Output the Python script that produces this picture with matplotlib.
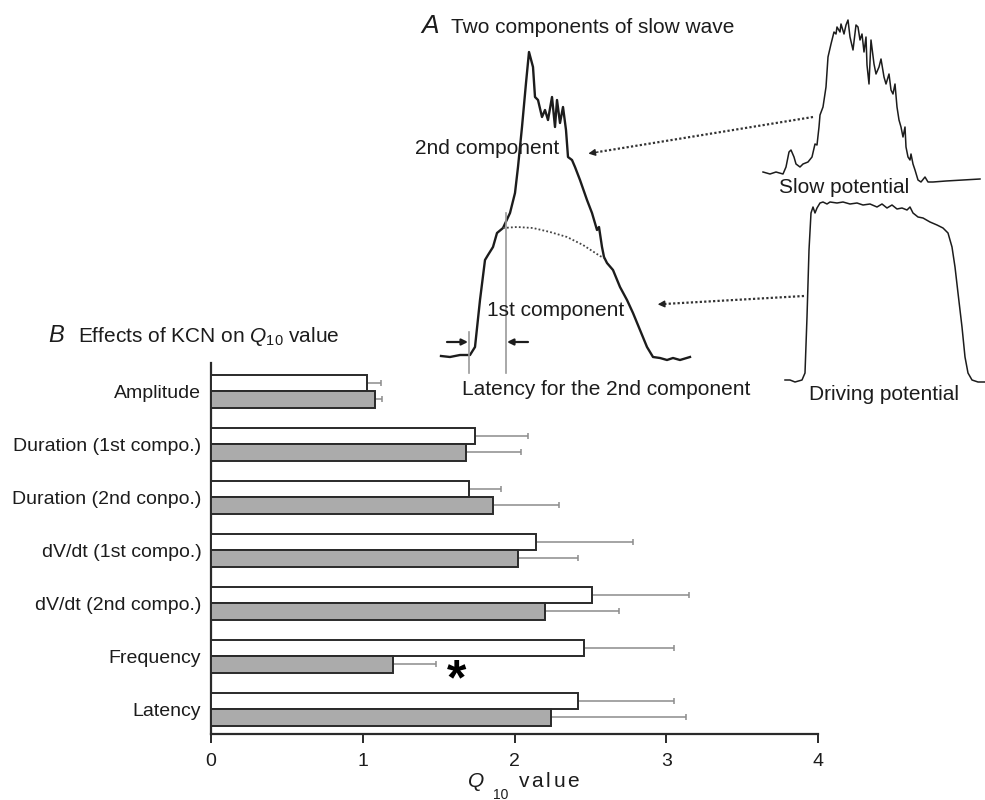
import matplotlib.pyplot as plt

plt.rcParams['font.family'] = ['Liberation Sans', 'DejaVu Sans']
plt.rcParams['mathtext.fontset'] = 'custom'
plt.rcParams['mathtext.rm'] = 'Liberation Sans'
plt.rcParams['mathtext.it'] = 'Liberation Sans:italic'

W, H = 985, 800
INK = '#1c1c1c'

# ---- B: Q10 values (open = control, grey = KCN) ----
measures = ['Amplitude', 'Duration (1st compo.)', 'Duration (2nd conpo.)',
            'dV/dt (1st compo.)', 'dV/dt (2nd compo.)', 'Frequency', 'Latency']
control_q10 = [1.03, 1.74, 1.70, 2.14, 2.51, 2.46, 2.42]
control_err = [0.09, 0.35, 0.21, 0.64, 0.64, 0.59, 0.63]
kcn_q10 = [1.08, 1.68, 1.86, 2.02, 2.20, 1.20, 2.24]
kcn_err = [0.05, 0.36, 0.43, 0.40, 0.49, 0.28, 0.89]
x_ticks = [0, 1, 2, 3, 4]

# ---- A: traces (time, voltage in plotting units, baseline = 0) ----
compound_t = [0, 9, 19, 29, 34, 39, 44, 47, 52, 56, 62, 69, 74, 77, 81, 85, 88,
              92, 94, 97, 101, 104, 107, 111, 114, 116, 119, 122, 125, 127, 131,
              134, 139, 146, 151, 156, 158, 161, 163, 166, 172, 179, 186, 192,
              199, 206, 212, 219, 226, 232, 239, 249]
compound_v = [0, -1, 1, 1, 9, 56, 96, 101, 109, 123, 128, 143, 163, 189, 229,
              273, 304, 289, 259, 256, 239, 246, 236, 259, 229, 256, 233, 249,
              226, 199, 196, 189, 176, 156, 143, 126, 129, 109, 99, 93, 86, 69,
              56, 43, 26, 9, -1, -2, -4, -2, -4, -1]
first_comp_t = [62, 76, 92, 109, 126, 142, 159, 163]
first_comp_v = [128, 129, 128, 124, 119, 111, 100, 98]

slow_t = [0, 7, 13, 20, 23, 26, 28, 31, 33, 37, 40, 45, 49, 52, 54, 56, 57, 60,
          63, 65, 68, 71, 73, 74, 77, 78, 81, 83, 85, 87, 90, 93, 95, 97, 99,
          101, 103, 104, 106, 108, 111, 113, 116, 118, 121, 123, 126, 128, 130,
          132, 134, 136, 138, 140, 142, 143, 145, 147, 148, 150, 152, 155, 158,
          162, 165, 170, 183, 200, 217]
slow_v = [0, -2, 0, -2, 5, 20, 22, 15, 8, 5, 8, 10, 15, 28, 27, 45, 57, 65, 85,
          115, 128, 140, 138, 145, 140, 148, 138, 147, 152, 135, 122, 147, 145,
          132, 138, 120, 135, 107, 88, 132, 108, 98, 105, 113, 95, 88, 98, 82,
          78, 88, 65, 52, 45, 35, 45, 25, 15, 12, 18, 8, 2, -8, -10, -5, -10,
          -10, -9, -8, -7]

drive_t = [0, 5, 10, 17, 20, 22, 24, 26, 28, 30, 32, 35, 38, 42, 45, 52, 58,
           65, 72, 78, 85, 92, 97, 102, 107, 112, 117, 122, 125, 128, 133, 138,
           145, 152, 158, 163, 167, 170, 173, 177, 180, 183, 187, 193, 200]
drive_v = [0, 0, -2, 0, 7, 63, 130, 167, 173, 167, 172, 177, 178, 176, 178,
           177, 178, 176, 177, 175, 176, 173, 176, 172, 175, 171, 172, 170, 173,
           167, 163, 162, 158, 155, 152, 147, 133, 113, 87, 53, 23, 7, 0, -2, -2]

fig = plt.figure(figsize=(W / 100, H / 100), dpi=100)


def trace_axes(x0, y0, t_range, v_range):
    """Axes whose units are figure pixels, origin at (x0, y0) from top-left."""
    t_lo, t_hi = t_range
    v_lo, v_hi = v_range
    ax = fig.add_axes([(x0 + t_lo) / W, (H - y0 + v_lo) / H,
                       (t_hi - t_lo) / W, (v_hi - v_lo) / H])
    ax.set_xlim(t_lo, t_hi)
    ax.set_ylim(v_lo, v_hi)
    ax.axis('off')
    return ax


# ---- B: horizontal bar chart (drawn first, transparent background) ----
ax = fig.add_axes([211 / W, 66 / H, 607 / W, 371 / H])
ax.patch.set_visible(False)
pos = list(range(len(measures)))
h = 0.31
ax.barh([p - h / 2 for p in pos], control_q10, height=h, color='white',
        edgecolor='#2a2a2a', linewidth=1.4, zorder=3)
ax.barh([p + h / 2 for p in pos], kcn_q10, height=h, color='#ababab',
        edgecolor='#2a2a2a', linewidth=1.4, zorder=3)
ax.errorbar(control_q10, [p - h / 2 for p in pos],
            xerr=[[0] * len(pos), control_err], fmt='none', ecolor='#8c8c8c',
            elinewidth=1.1, capsize=2.5, capthick=1.1, zorder=2)
ax.errorbar(kcn_q10, [p + h / 2 for p in pos],
            xerr=[[0] * len(pos), kcn_err], fmt='none', ecolor='#8c8c8c',
            elinewidth=1.1, capsize=2.5, capthick=1.1, zorder=2)

ax.set_xlim(0, 4)
ax.set_ylim(6.47, -0.53)
ax.set_xticks(x_ticks)
ax.set_xticklabels([str(t) for t in x_ticks])
ax.set_yticks(pos)
ax.set_yticklabels(measures)
ax.tick_params(axis='x', length=6.5, width=1.4, color='#2a2a2a', labelsize=14,
               labelcolor=INK, pad=7)
ax.tick_params(axis='y', length=0, labelsize=14, labelcolor=INK, pad=7)
for side in ('top', 'right'):
    ax.spines[side].set_visible(False)
for side in ('left', 'bottom'):
    ax.spines[side].set_linewidth(1.6)
    ax.spines[side].set_color('#2a2a2a')

# significance mark on the KCN frequency bar
ax.text(1.62, 5.73, '*', fontsize=36, fontweight='bold', color='black',
        ha='center', va='baseline')

xt = ax.get_xaxis_transform()
ax.text(1.69, -0.143, r'$Q$', fontsize=15, color=INK, transform=xt,
        va='baseline')
ax.text(1.86, -0.175, '10', fontsize=10, color=INK, transform=xt,
        va='baseline')
ax.text(2.02, -0.143, r'$\mathrm{v\,a\,l\,u\,e}$', fontsize=15, color=INK,
        transform=xt, va='baseline')

# ---- A: compound slow wave with its two components ----
ax_c = trace_axes(441, 356, (-10, 260), (-30, 330))
ax_c.plot(compound_t, compound_v, color=INK, lw=1.7, solid_joinstyle='round')
ax_c.plot(first_comp_t, first_comp_v, color='#444444', lw=1.3,
          linestyle=(0, (1, 1.2)))
ax_c.plot([28, 28], [-17, 24], color='#9a9a9a', lw=1.2)
ax_c.plot([65, 65], [-17, 143], color='#9a9a9a', lw=1.2)
ax_c.annotate('', xy=(27, 14), xytext=(6, 14),
              arrowprops=dict(arrowstyle='-|>', color=INK, lw=1.6,
                              mutation_scale=9, shrinkA=0, shrinkB=0))
ax_c.annotate('', xy=(66, 14), xytext=(87, 14),
              arrowprops=dict(arrowstyle='-|>', color=INK, lw=1.6,
                              mutation_scale=9, shrinkA=0, shrinkB=0))

ax_s = trace_axes(763, 172, (-5, 225), (-20, 160))
ax_s.plot(slow_t, slow_v, color=INK, lw=1.1)

ax_d = trace_axes(785, 380, (-5, 205), (-10, 185))
ax_d.plot(drive_t, drive_v, color=INK, lw=1.1)

# labels and dotted pointers, laid out in pixel units
ax_txt = fig.add_axes([0, 0, 1, 1])
ax_txt.set_xlim(0, W)
ax_txt.set_ylim(H, 0)
ax_txt.axis('off')

ax_txt.text(421, 33, 'A', fontsize=19, style='italic', color=INK, va='baseline')
ax_txt.text(451, 33, 'Two components of slow wave', fontsize=15, color=INK,
            va='baseline')
ax_txt.text(415, 154, '2nd component', fontsize=15, color=INK, va='baseline')
ax_txt.text(487, 316, '1st component', fontsize=15, color=INK, va='baseline')
ax_txt.text(462, 395, 'Latency for the 2nd component', fontsize=15, color=INK,
            va='baseline')
ax_txt.text(779, 193, 'Slow potential', fontsize=15, color=INK, va='baseline')
ax_txt.text(809, 400, 'Driving potential', fontsize=15, color=INK, va='baseline')

for (x1, y1), (x2, y2) in [((813, 117), (598, 152)), ((804, 296), (664, 304))]:
    ax_txt.plot([x1, x2], [y1, y2], color='#333333', lw=1.6,
                linestyle=(0, (1, 1)))
    dx, dy = x2 - x1, y2 - y1
    ax_txt.annotate('', xy=(x2 + dx * 0.045, y2 + dy * 0.045), xytext=(x2, y2),
                    arrowprops=dict(arrowstyle='-|>', color='#222222', lw=1.0,
                                    mutation_scale=10, shrinkA=0, shrinkB=0))

ax_txt.text(48, 342, 'B', fontsize=17, style='italic', color=INK, va='baseline')
ax_txt.text(78, 342, r'Effects of KCN on $Q_{10}$ value', fontsize=15,
            color=INK, va='baseline')

fig.savefig('out.png', dpi=100)
